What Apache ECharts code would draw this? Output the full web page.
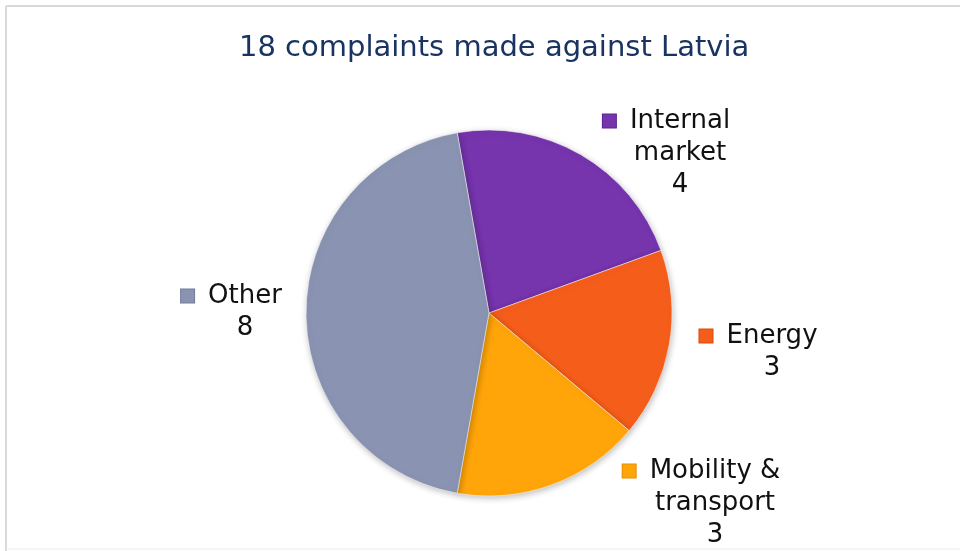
<!DOCTYPE html>
<html>
<head>
<meta charset="utf-8">
<script src="https://cdn.jsdelivr.net/npm/echarts@6/dist/echarts.min.js"></script>
<style>html,body{margin:0;padding:0;background:#fff}#c{width:960px;height:551px}</style>
</head>
<body>
<div id="c"></div>
<script>
const titleText = '18 complaints made against Latvia';
const categories = ['Internal\nmarket', 'Energy', 'Mobility &\ntransport', 'Other'];
const values = [4, 3, 3, 8];

const colors = ['#7634ad', '#f55d1b', '#ffa50a', '#8a93b1'];
const edgeColors = ['#5e2290', '#d94a0c', '#e88e00', '#727c9a'];
const labelPos = [[680, 153], [772, 352], [715, 503], [245, 312]];

const chart = echarts.init(document.getElementById('c'));
const FONT = '"DejaVu Sans", Verdana, sans-serif';

const data = categories.map((name, i) => ({
  name: name,
  value: values[i],
  itemStyle: { color: colors[i] },
  label: {
    rich: {
      sq: { width: 13, height: 13, backgroundColor: colors[i], borderColor: edgeColors[i], borderWidth: 1, lineHeight: 32 },
      g: { width: 14, lineHeight: 32 },
      r: { width: 27, lineHeight: 32 }
    }
  }
}));

chart.setOption({
  backgroundColor: '#fff',
  animation: false,
  title: {
    text: titleText,
    left: 234,
    top: 29,
    textStyle: { fontFamily: FONT, fontSize: 29, fontWeight: 'normal', color: '#1a3461' }
  },
  graphic: [
    { type: 'line', shape: { x1: 6, y1: 6, x2: 960, y2: 6 }, style: { stroke: '#d9d9d9', lineWidth: 2 } },
    { type: 'line', shape: { x1: 6, y1: 6, x2: 6, y2: 551 }, style: { stroke: '#d9d9d9', lineWidth: 2 } },
    { type: 'line', shape: { x1: 6, y1: 549, x2: 960, y2: 549 }, style: { stroke: '#ececec', lineWidth: 1 } }
  ],
  series: [{
    type: 'pie',
    center: [489, 313],
    radius: [0, 183],
    startAngle: 100,
    clockwise: true,
    data: data,
    itemStyle: {
      borderColor: 'rgba(255,255,255,0.5)',
      borderWidth: 1,
      shadowBlur: 6,
      shadowColor: 'rgba(0,0,0,0.25)',
      shadowOffsetX: 1,
      shadowOffsetY: 2
    },
    label: {
      show: true,
      position: 'outside',
      fontFamily: FONT,
      fontSize: 26,
      color: '#111',
      lineHeight: 32,
      align: 'center',
      formatter: function (p) {
        const lines = p.name.split('\n');
        const first = '{sq|}{g|}' + lines[0] + '{r|}';
        const rest = lines.slice(1);
        return [first].concat(rest).concat([String(p.value)]).join('\n');
      }
    },
    labelLine: { show: false },
    labelLayout: function (params) {
      const p = labelPos[params.dataIndex];
      return { x: p[0], y: p[1], align: 'center', verticalAlign: 'middle' };
    },
    emphasis: { disabled: true }
  }]
});
</script>
</body>
</html>
